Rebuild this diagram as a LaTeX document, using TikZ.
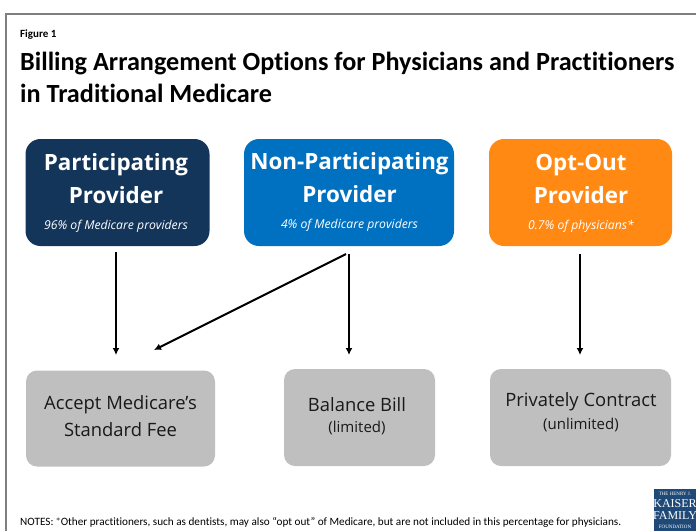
\documentclass[tikz,border=0pt]{standalone}
\usepackage{fontspec}
\setmainfont{Carlito}[Ligatures=NoCommon]
\newfontfamily\opensans{Open Sans}
\newfontfamily\logofont{Liberation Serif}
\definecolor{navy}{HTML}{14355A}
\definecolor{midblue}{HTML}{0070C0}
\definecolor{orng}{HTML}{FF8912}
\definecolor{boxgray}{HTML}{BFBFBF}
\definecolor{framegray}{HTML}{7F7F7F}
\definecolor{logoblue}{HTML}{1F4A78}
\tikzset{
  x=1pt,y=-1pt,
  topbox/.style={rounded corners=15pt,minimum height=107pt,inner sep=0pt},
  lowbox/.style={fill=boxgray,rounded corners=11pt,inner sep=0pt},
  head/.style={text=white,font=\opensans\bfseries\fontsize{22.4}{33}\selectfont,align=center,inner sep=0pt},
  sub/.style={text=white,font=\opensans\itshape\fontsize{12.2}{14}\selectfont,inner sep=0pt},
  lowtext/.style={font=\opensans\fontsize{18.4}{27}\selectfont,align=center,text=black!90,inner sep=0pt},
  lim/.style={font=\opensans\fontsize{15}{17}\selectfont,text=black!90,inner sep=0pt},
  arr/.style={draw=black,line width=2pt,-{Latex[length=7pt,width=7pt]}},
}
\usetikzlibrary{arrows.meta}
\begin{document}
\begin{tikzpicture}
\useasboundingbox (0,0) rectangle (696,531);
\draw[framegray,line width=2pt] (5.5,531) -- (5.5,13.5) -- (696,13.5);
\node[anchor=base west,inner sep=0pt,font=\bfseries\fontsize{11}{13}\selectfont] (fig) at (20,37) {Figure 1};
\node[anchor=base west,inner sep=0pt,font=\bfseries\fontsize{26.2}{30}\selectfont] (t1) at (20,70) {Billing Arrangement Options for Physicians and Practitioners};
\node[anchor=base west,inner sep=0pt,font=\bfseries\fontsize{26.2}{30}\selectfont] (t2) at (20,102) {in Traditional Medicare};

\node[topbox,fill=navy,minimum width=184pt] (p) at (117.5,192.5) {};
\node[topbox,fill=midblue,minimum width=210pt] (n) at (349,192.5) {};
\node[topbox,fill=orng,minimum width=183pt] (o) at (580.5,192.5) {};

\node[head] (ph) at (116,179) {Participating\\Provider};
\node[head] (nh) at (349.5,178) {Non-Participating\\Provider};
\node[head] (oh) at (581,179) {Opt-Out\\Provider};
\node[sub] (ps) at (116,226) {96\% of Medicare providers};
\node[sub] (ns) at (349.5,225) {4\% of Medicare providers};
\node[sub] (os) at (581,226) {0.7\% of physicians*};

\node[lowbox,minimum width=189pt,minimum height=96pt] (a) at (120.5,418.5) {};
\node[lowbox,minimum width=151pt,minimum height=97pt] (b) at (359.5,417.5) {};
\node[lowbox,minimum width=181pt,minimum height=97pt] (c) at (580.5,417.5) {};
\node[lowtext] (at) at (120.5,416) {Accept Medicare’s\\Standard Fee};
\node[lowtext] (bt) at (357,405) {Balance Bill};
\node[lim] (bl) at (357,428) {(limited)};
\node[lowtext] (ct) at (581,402) {Privately Contract};
\node[lim] (cl) at (581,425) {(unlimited)};

\coordinate (s1) at (116,252);
\coordinate (e1) at (116,355);
\coordinate (s2) at (346,254);
\coordinate (e2) at (154,350);
\coordinate (s3) at (349,254);
\coordinate (e3) at (349,355);
\coordinate (s4) at (580,254);
\coordinate (e4) at (580,355);
\draw[arr] (s1) -- (e1);
\draw[arr] (s2) -- (e2);
\draw[arr] (s3) -- (e3);
\draw[arr] (s4) -- (e4);

\node[anchor=base west,inner sep=0pt,font=\fontsize{11.2}{12}\selectfont] (notes) at (20,525) {NOTES: $^{*}$Other practitioners, such as dentists, may also “opt out” of Medicare, but are not included in this percentage for physicians.};

\fill[logoblue] (654,489) rectangle (696,531);
\node[text=white,font=\logofont\fontsize{5}{6}\selectfont,inner sep=0pt] (l1) at (675,494) {THE HENRY J.};
\node[text=white,font=\logofont\fontsize{12}{12}\selectfont,inner sep=0pt] (l2) at (675,504) {KAISER};
\node[text=white,font=\logofont\fontsize{12}{12}\selectfont,inner sep=0pt] (l3) at (675,516) {FAMILY};
\node[text=white,font=\logofont\fontsize{5}{6}\selectfont,inner sep=0pt] (l4) at (675,527) {FOUNDATION};
\end{tikzpicture}
\end{document}
